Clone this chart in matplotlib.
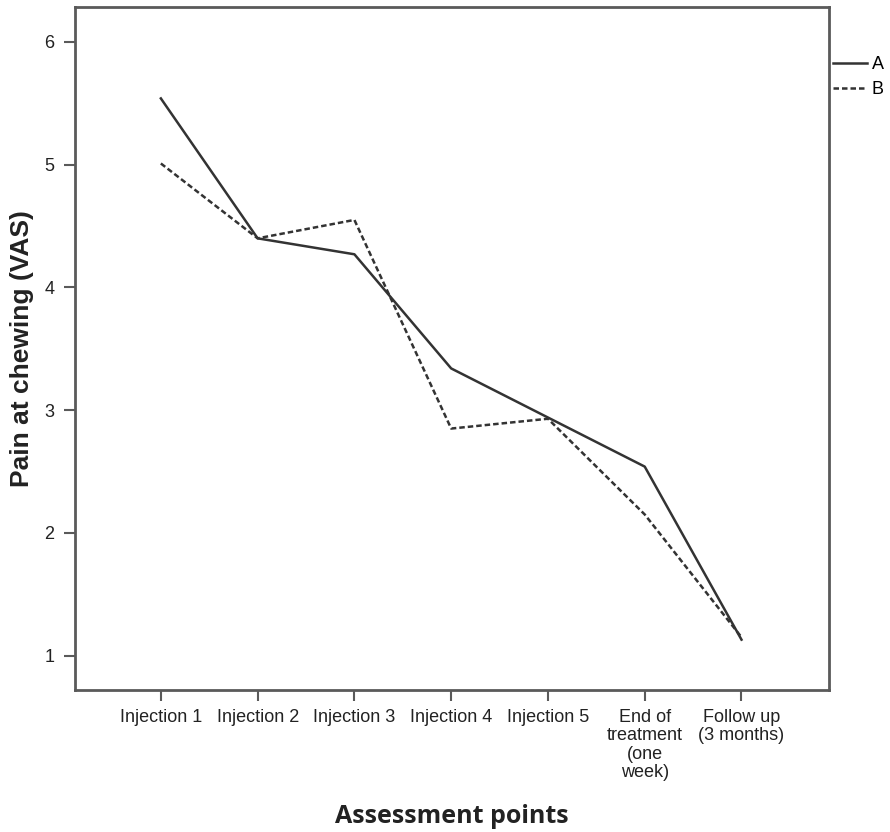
import matplotlib
matplotlib.use("Agg")
import matplotlib.pyplot as plt

categories = ["Injection 1", "Injection 2", "Injection 3", "Injection 4", "Injection 5",
              "End of\ntreatment\n(one\nweek)", "Follow up\n(3 months)"]
series_a = [5.54, 4.40, 4.27, 3.34, 2.94, 2.54, 1.13]
series_b = [5.01, 4.40, 4.55, 2.85, 2.93, 2.15, 1.15]
y_ticks = [1, 2, 3, 4, 5, 6]

plt.rcParams['font.family'] = ['Liberation Sans', 'DejaVu Sans']

fig = plt.figure(figsize=(8.9, 8.32), dpi=100)
ax = fig.add_axes([0.0843, 0.1707, 0.8467, 0.8209])

x = list(range(1, len(categories) + 1))
la, = ax.plot(x, series_a, color="#333333", lw=1.8, label="A")
lb, = ax.plot(x, series_b, color="#333333", lw=1.8, linestyle=(0, (2.2, 1.2)), label="B")

ax.set_xlim(0.113, 7.9)
ax.set_ylim(0.72, 6.285)
ax.set_xticks(x)
ax.set_xticklabels(categories, fontsize=13, linespacing=1.08, va="top")
ax.set_yticks(y_ticks)
ax.set_yticklabels([str(v) for v in y_ticks], fontsize=13)

for s in ax.spines.values():
    s.set_color("#5a5a5a")
    s.set_linewidth(2.0)
ax.tick_params(axis="both", direction="out", length=8, width=1.5, color="#5a5a5a",
               labelcolor="#222222")
ax.tick_params(axis="x", pad=6)
ax.tick_params(axis="y", pad=7)

ax.set_ylabel("Pain at chewing (VAS)", fontsize=19, fontweight="bold",
              color="#222222", labelpad=7)
ax.set_xlabel("Assessment points", fontsize=18, fontweight="bold",
              family=["Open Sans", "DejaVu Sans"], color="#222222", labelpad=17)

leg = ax.legend(handles=[la, lb], loc="upper left", bbox_to_anchor=(1.0, 0.935),
                frameon=False, fontsize=13, handlelength=1.9, handletextpad=0.25,
                labelspacing=0.45, borderaxespad=0.25, borderpad=0.0)

fig.savefig("out.png", dpi=100)
